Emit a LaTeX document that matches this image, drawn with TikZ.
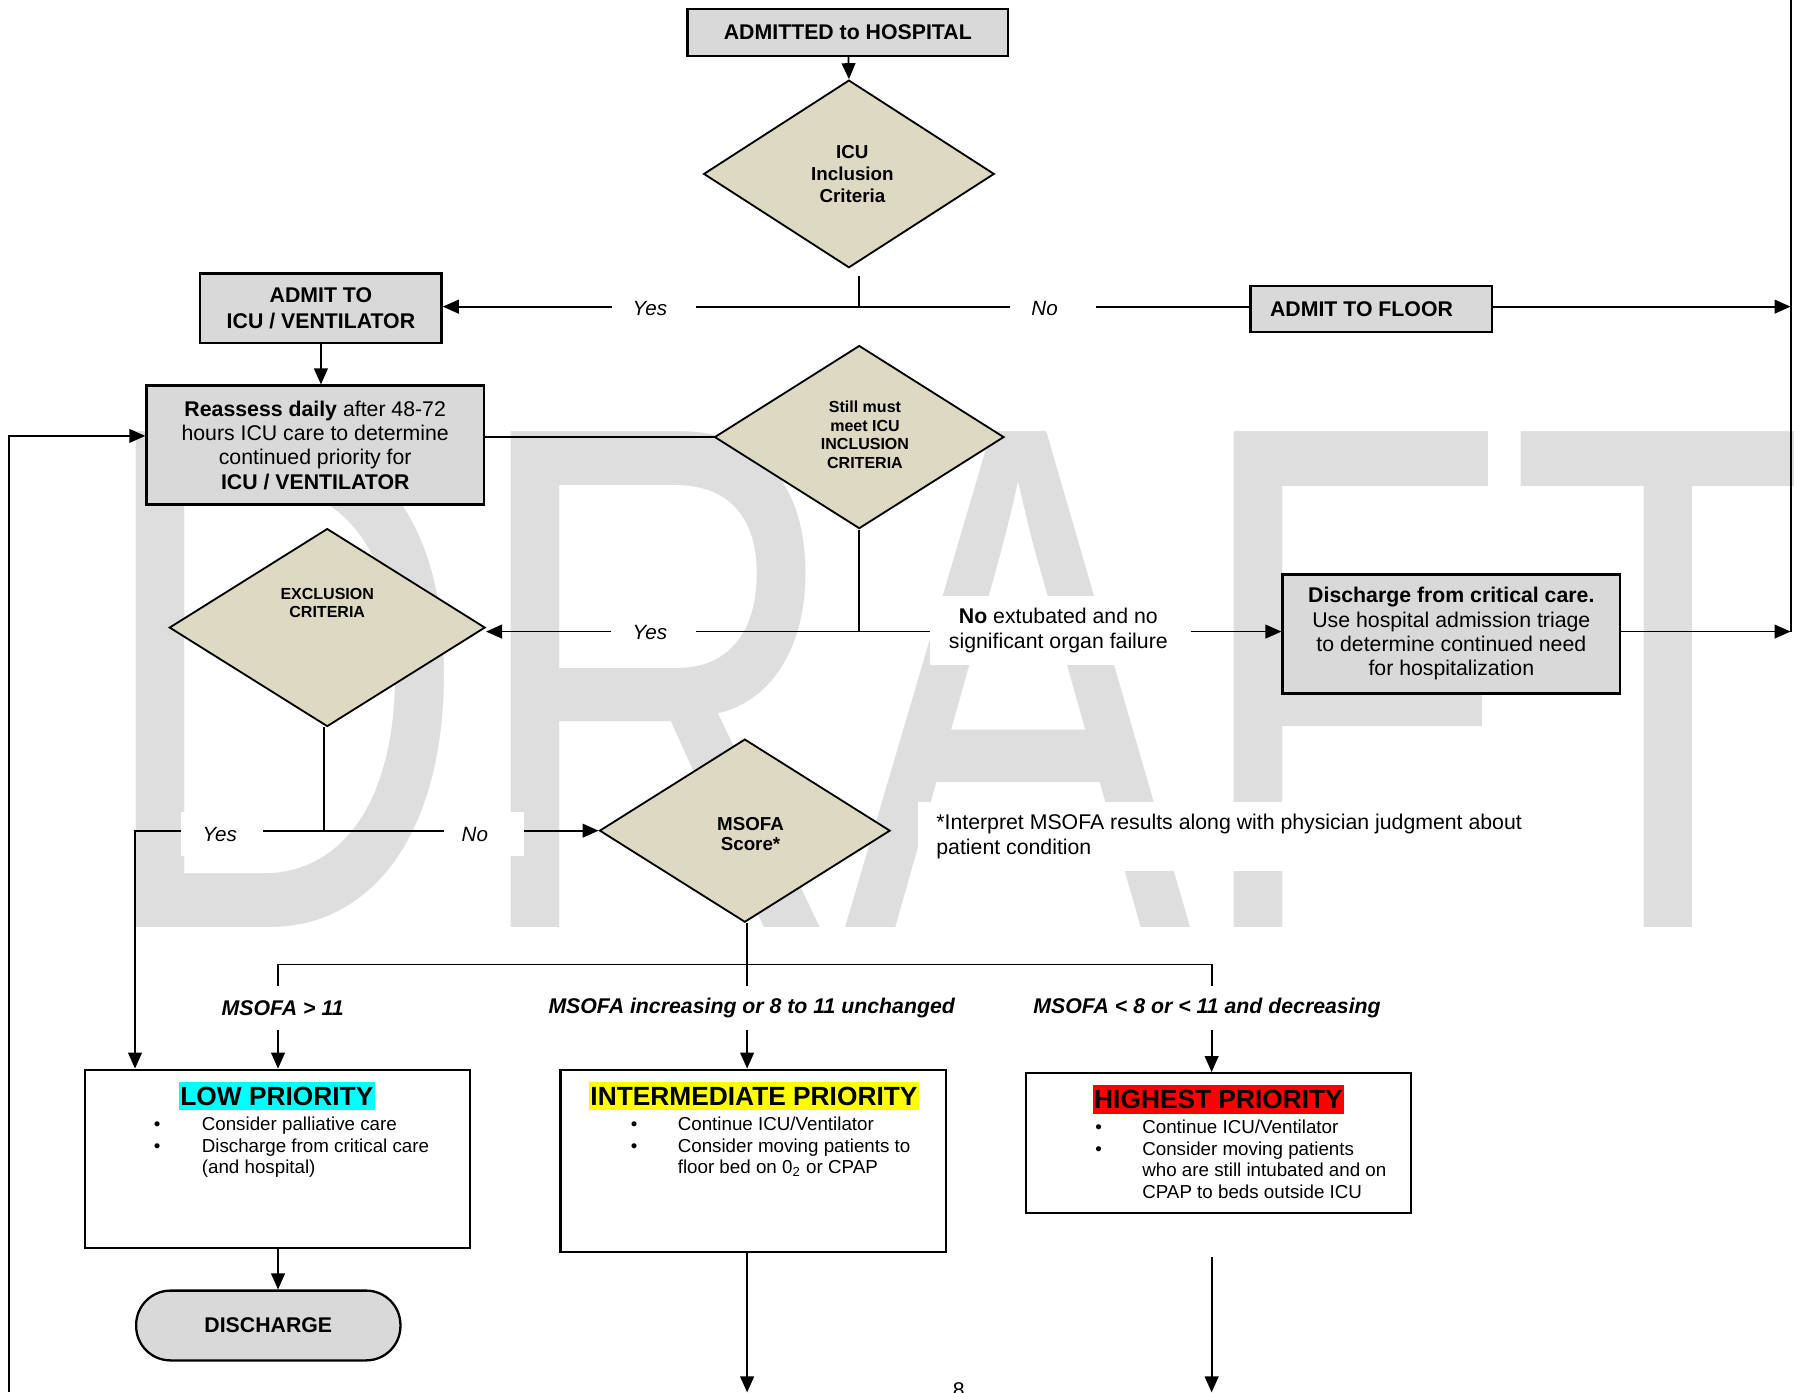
\documentclass[tikz,border=0pt]{standalone}
\usepackage{fontspec}
\setmainfont{Liberation Sans}
\usetikzlibrary{shapes.geometric,arrows.meta,calc}
\definecolor{boxgray}{RGB}{217,217,217}
\definecolor{diatan}{RGB}{221,217,195}
\definecolor{wmgray}{RGB}{222,222,222}
\definecolor{hlcyan}{RGB}{0,255,255}
\definecolor{hlyellow}{RGB}{255,255,0}
\definecolor{hlred}{RGB}{255,0,0}
\begin{document}
\begin{tikzpicture}[x=0.5pt,y=-0.5pt,
  f93/.style={font=\fontsize{9.3}{10.65}\selectfont},
  gbox/.style={draw, line width=1pt, fill=boxgray, align=center, inner sep=0pt, f93},
  wbox/.style={draw, line width=1pt, fill=white, inner sep=0pt},
  dia/.style={diamond, draw, line width=0.8pt, fill=diatan, inner sep=0pt},
  dtext/.style={align=center, inner sep=0pt, font=\bfseries\fontsize{8.2}{9.5}\selectfont},
  dsmall/.style={align=center, inner sep=0pt, font=\bfseries\fontsize{7}{8.1}\selectfont},
  conn/.style={line width=0.8pt},
  arr/.style={conn, -{Triangle[length=7pt,width=6pt]}},
  yn/.style={inner sep=0pt, font=\itshape\fontsize{9}{10.5}\selectfont},
  ttl/.style={inner xsep=0.6pt, inner ysep=0pt, text height=10.2pt, text depth=2.3pt, font=\bfseries\fontsize{11.5}{13}\selectfont},
  blist/.style={anchor=base west, inner sep=0pt, font=\fontsize{8.2}{9.5}\selectfont},
  mlab/.style={inner sep=0pt, font=\bfseries\itshape\fontsize{9.3}{10.6}\selectfont},
]
\useasboundingbox (0,0) rectangle (1568,1217);

% watermark
\node[anchor=base west, inner sep=0pt, text=wmgray, font=\fontsize{315}{315}\selectfont, xscale=0.722] (wm) at (81,811) {DRAFT};

% boxes and decisions
\node[gbox, minimum width=140pt, minimum height=20.5pt, font=\bfseries\fontsize{9.3}{10.6}\selectfont] (adm) at (741,28.5) {ADMITTED to HOSPITAL};
\node[dia, minimum width=127pt, minimum height=82pt] (icu) at (742,152) {};
\node[gbox, minimum width=105.5pt, minimum height=30.5pt, font=\bfseries\fontsize{9.3}{11}\selectfont] (admicu) at (280.5,269.5) {ADMIT TO\\ICU / VENTILATOR};
\node[gbox, minimum width=105.5pt, minimum height=20pt] (floor) at (1198.5,270) {};
\node[inner sep=0pt, font=\bfseries\fontsize{9.3}{10.6}\selectfont] (floortxt) at (1190,270) {ADMIT TO FLOOR};
\node[gbox, minimum width=147.5pt, minimum height=52pt] (reas) at (275.5,389) {\textbf{Reassess daily} after 48-72\\hours ICU care to determine\\continued priority for\\\textbf{ICU / VENTILATOR}};
\node[dia, minimum width=126.5pt, minimum height=80pt] (still) at (751,382) {};
\node[dia, minimum width=138pt, minimum height=86.5pt] (excl) at (286,548.5) {};
\node[gbox, minimum width=147.5pt, minimum height=52pt] (dis) at (1268.5,554) {\textbf{Discharge from critical care.}\\Use hospital admission triage\\to determine continued need\\for hospitalization};
\node[dia, minimum width=127pt, minimum height=80pt] (msofa) at (651,726) {};
\node[wbox, minimum width=168.5pt, minimum height=78pt] (low) at (242.5,1013) {};
\node[wbox, minimum width=168.5pt, minimum height=79.5pt] (inter) at (658.5,1014.5) {};
\node[wbox, minimum width=168pt, minimum height=61pt] (high) at (1065,999) {};
\node[draw, line width=1pt, fill=boxgray, rounded corners=15pt, minimum width=115.5pt, minimum height=30.5pt, inner sep=0pt, font=\bfseries\fontsize{9.3}{10.6}\selectfont] (term) at (234.5,1158.5) {DISCHARGE};

% diamond texts
\node[dtext] (icut) at (745,152) {ICU\\Inclusion\\Criteria};
\node[dsmall] (stillt) at (756,380) {Still must\\meet ICU\\INCLUSION\\CRITERIA};
\node[dsmall, font=\bfseries\fontsize{7}{8}\selectfont] (exclt) at (286,527) {EXCLUSION\\CRITERIA};
\node[dtext, font=\bfseries\fontsize{8.2}{9}\selectfont] (msofat) at (656,729) {MSOFA\\Score*};

% coordinates
\coordinate (j1) at (751,268);
\coordinate (rtop) at (1565,0);
\coordinate (rmid) at (1565,268);
\coordinate (rbot) at (1565,552);
\coordinate (j2) at (751,552);
\coordinate (j3) at (283,726);
\coordinate (j4) at (118,726);
\coordinate (lb) at (8,1217);
\coordinate (m0) at (653,862);
\coordinate (hl) at (243,843);
\coordinate (hr) at (1059,843);
\coordinate (hm) at (653,843);
\coordinate (a1) at (243,900);
\coordinate (a2) at (653,900);
\coordinate (a3) at (1059,900);
\coordinate (ib) at (653,1217);
\coordinate (hb0) at (1059,1099);
\coordinate (hb) at (1059,1217);

% connectors
\draw[arr] (adm) -- (icu.north);
\draw[conn] ([xshift=4.5pt,yshift=-3pt]icu.south) -- (j1);
\draw[arr] (floor.west |- j1) -- (admicu.east |- j1);
\draw[arr] (floor.east |- j1) -- (rmid);
\draw[conn] (rtop) -- (rbot);
\draw[arr] (admicu) -- (admicu |- reas.north);
\draw[conn] (still.west) -- (still.west -| reas.east);
\draw[arr] (lb) |- ([yshift=4pt]reas.west);
\draw[conn] (still.south) -- (j2);
\draw[arr] (j2) -- (j2 -| excl.east);
\draw[arr] (j2) -- (j2 -| dis.west);
\draw[arr] (j2 -| dis.east) -- (rbot);
\draw[conn] (j3 |- excl.south) -- (j3);
\draw[arr] (j3) -- (msofa.west);
\draw[arr] (j3) -- (j4) -- (j4 |- low.north);
\draw[conn] (hm |- msofa.south) -- (m0);
\draw[conn] (hl |- m0) -- (hl) -- (hr) -- (hr |- m0);
\draw[arr] (a1) -- (a1 |- low.north);
\draw[arr] (a2) -- (a2 |- inter.north);
\draw[arr] (a3) -- (a3 |- high.north);
\draw[arr] (low.south -| a1) -- (a1 |- term.north);
\draw[arr] (inter.south -| a2) -- (ib);
\draw[arr] (hb0) -- (hb);

% white masks behind labels
\fill[white] (535,260) rectangle (608,280);
\fill[white] (883,260) rectangle (958,280);
\fill[white] (534,535) rectangle (608,572);
\fill[white] (813,521) rectangle (1041,581);
\fill[white] (158,710) rectangle (230,748);
\fill[white] (388,710) rectangle (458,748);
\fill[white] (802,701) rectangle (1345,761);

% labels
\node[yn] (yes1) at (568,270) {Yes};
\node[yn] (no1) at (913,270) {No};
\node[yn] (yes2) at (568,553) {Yes};
\node[align=center, inner sep=0pt, font=\fontsize{9.3}{11}\selectfont] (noext) at (925,551) {\textbf{No} extubated and no\\significant organ failure};
\node[yn] (yes3) at (192,729) {Yes};
\node[yn] (no3) at (415,729) {No};
\node[anchor=west, align=left, inner sep=0pt, font=\fontsize{9.3}{11}\selectfont] (fn) at (818,731) {*Interpret MSOFA results along with physician judgment about\\patient condition};

\node[mlab] (l1) at (247,881) {MSOFA > 11};
\node[mlab] (l2) at (657,881) {MSOFA increasing or 8 to 11 unchanged};
\node[mlab] (l3) at (1055,881) {MSOFA < 8 or < 11 and decreasing};

% priority boxes content
\node[ttl, fill=hlcyan] (lowt) at (242,958) {LOW PRIORITY};
\node[ttl, fill=hlyellow] (intert) at (659,958) {INTERMEDIATE PRIORITY};
\node[ttl, fill=hlred] (hight) at (1065,961) {HIGHEST PRIORITY};

\node[blist] (lowl) at (134,988) {\begin{tabular}[t]{@{}p{21pt}@{}l@{}}•&Consider palliative care\\•&Discharge from critical care\\&(and hospital)\end{tabular}};
\node[blist] (interl) at (551,988) {\begin{tabular}[t]{@{}p{20.5pt}@{}l@{}}•&Continue ICU/Ventilator\\•&Consider moving patients to\\&floor bed on 0\textsubscript{2} or CPAP\end{tabular}};
\node[blist, font=\fontsize{8.2}{9.35}\selectfont] (highl) at (957,991) {\begin{tabular}[t]{@{}p{20.5pt}@{}l@{}}•&Continue ICU/Ventilator\\•&Consider moving patients\\&who are still intubated and on\\&CPAP to beds outside ICU\end{tabular}};

\node[anchor=base, inner sep=0pt, font=\fontsize{9.3}{11}\selectfont] (pg) at (838,1221) {8};
\end{tikzpicture}
\end{document}
